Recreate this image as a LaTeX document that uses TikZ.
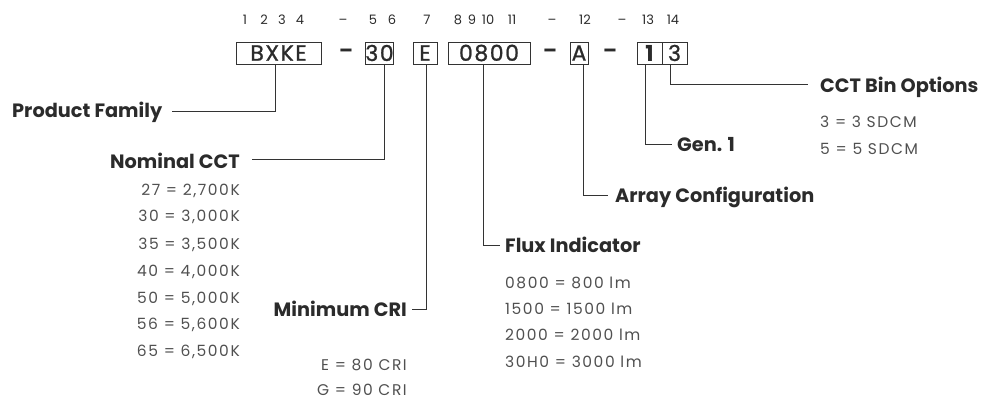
\documentclass[tikz,border=0pt]{standalone}
\usepackage{fontspec}
\setmainfont{Poppins}
\definecolor{labc}{HTML}{2B2B2B}
\definecolor{valc}{HTML}{505050}
\definecolor{linec}{HTML}{333333}
\begin{document}
\begin{tikzpicture}[x=1pt,y=-1pt,
  lab/.style={font=\fontsize{19.3}{22}\selectfont\bfseries, text=labc, inner sep=0pt},
  val/.style={font=\fontsize{15.5}{18}\selectfont\addfontfeatures{LetterSpace=10}, text=valc, inner sep=0pt},
  codebox/.style={draw=linec, line width=0.9pt, minimum height=22pt, inner sep=0pt, font=\fontsize{22}{24}\selectfont\addfontfeatures{LetterSpace=7,FakeBold=1}, text=labc},
  dashc/.style={font=\fontsize{20}{22}\selectfont\bfseries, text=labc, inner sep=0pt},
  idx/.style={font=\fontsize{13}{15}\selectfont, text=labc, inner sep=0pt, anchor=base},
  conn/.style={draw=linec, line width=1pt},
]
\useasboundingbox (0,0) rectangle (991,401);
% index row
\node[idx] (i1) at (245,25) {1};
\node[idx] (i2) at (264,25) {2};
\node[idx] (i3) at (282,25) {3};
\node[idx] (i4) at (300,25) {4};
\node[idx] (id1) at (343,25) {–};
\node[idx] (i5) at (373,25) {5};
\node[idx] (i6) at (392,25) {6};
\node[idx] (i7) at (427,25) {7};
\node[idx] (i8) at (458,25) {8};
\node[idx] (i9) at (472,25) {9};
\node[idx] (i10) at (488,25) {10};
\node[idx] (i11) at (512,25) {11};
\node[idx] (id2) at (552,25) {–};
\node[idx] (i12) at (585,25) {12};
\node[idx] (id3) at (622,25) {–};
\node[idx] (i13) at (648,25) {13};
\node[idx] (i14) at (673,25) {14};
% code boxes
\node[codebox, minimum width=85pt] (b1) at (278.5,53) {BXKE};
\node[dashc] (d1) at (346,53) {–};
\node[codebox, minimum width=27pt] (b2) at (379.5,53) {30};
\node[codebox, minimum width=24pt] (b3) at (425,53) {E};
\node[codebox, minimum width=82pt] (b4) at (489,53) {0800};
\node[dashc] (d2) at (550,53) {–};
\node[codebox, minimum width=18pt] (b5) at (579,53) {A};
\node[dashc] (d3) at (610,53) {–};
\node[codebox, minimum width=25pt, font=\fontsize{22}{24}\selectfont\bfseries] (b6) at (649.5,53) {1};
\node[codebox, minimum width=25pt] (b7) at (674.5,53) {3};
% labels
\node[lab, anchor=base west] (pf) at (12,118) {Product Family};
\node[lab, anchor=base east] (ncct) at (240,168) {Nominal CCT};
\node[lab, anchor=base east] (mcri) at (407,316) {Minimum CRI};
\node[lab, anchor=base west] (flux) at (505,252) {Flux Indicator};
\node[lab, anchor=base west] (arr) at (615,202) {Array Configuration};
\node[lab, anchor=base west] (gen) at (677,152) {Gen. 1};
\node[lab, anchor=base west] (bin) at (820,93) {CCT Bin Options};
% connector ends
\coordinate (pfe) at (172,112);
\coordinate (ncce) at (252,160);
\coordinate (mcre) at (412,309);
\coordinate (flxe) at (500,245);
\coordinate (arre) at (608,195);
\coordinate (gene) at (672,145);
\coordinate (bine) at (808,85);
\draw[conn] ([xshift=-3.5pt]b1.south) |- (pfe);
\draw[conn] ([xshift=4.5pt]b2.south) |- (ncce);
\draw[conn] ([xshift=1pt]b3.south) |- (mcre);
\draw[conn] ([xshift=-6pt]b4.south) |- (flxe);
\draw[conn] ([xshift=4pt]b5.south) |- (arre);
\draw[conn] ([xshift=-4pt]b6.south) |- (gene);
\draw[conn] ([xshift=-4pt]b7.south) |- (bine);
% values
\node[val, anchor=base east] (c1) at (240,195) {27 = 2,700K};
\node[val, anchor=base east] (c2) at (240,222) {30 = 3,000K};
\node[val, anchor=base east] (c3) at (240,249) {35 = 3,500K};
\node[val, anchor=base east] (c4) at (240,276) {40 = 4,000K};
\node[val, anchor=base east] (c5) at (240,303) {50 = 5,000K};
\node[val, anchor=base east] (c6) at (240,329) {56 = 5,600K};
\node[val, anchor=base east] (c7) at (240,356) {65 = 6,500K};
\node[val, anchor=base east] (r1) at (407,370) {E = 80 CRI};
\node[val, anchor=base east] (r2) at (407,395) {G = 90 CRI};
\node[val, anchor=base west] (f1) at (505,288) {0800 = 800 lm};
\node[val, anchor=base west] (f2) at (505,314) {1500 = 1500 lm};
\node[val, anchor=base west] (f3) at (505,340) {2000 = 2000 lm};
\node[val, anchor=base west] (f4) at (505,367) {30H0 = 3000 lm};
\node[val, anchor=base west] (s1) at (820,128) {3 = 3 SDCM};
\node[val, anchor=base west] (s2) at (820,155) {5 = 5 SDCM};
\end{tikzpicture}
\end{document}
